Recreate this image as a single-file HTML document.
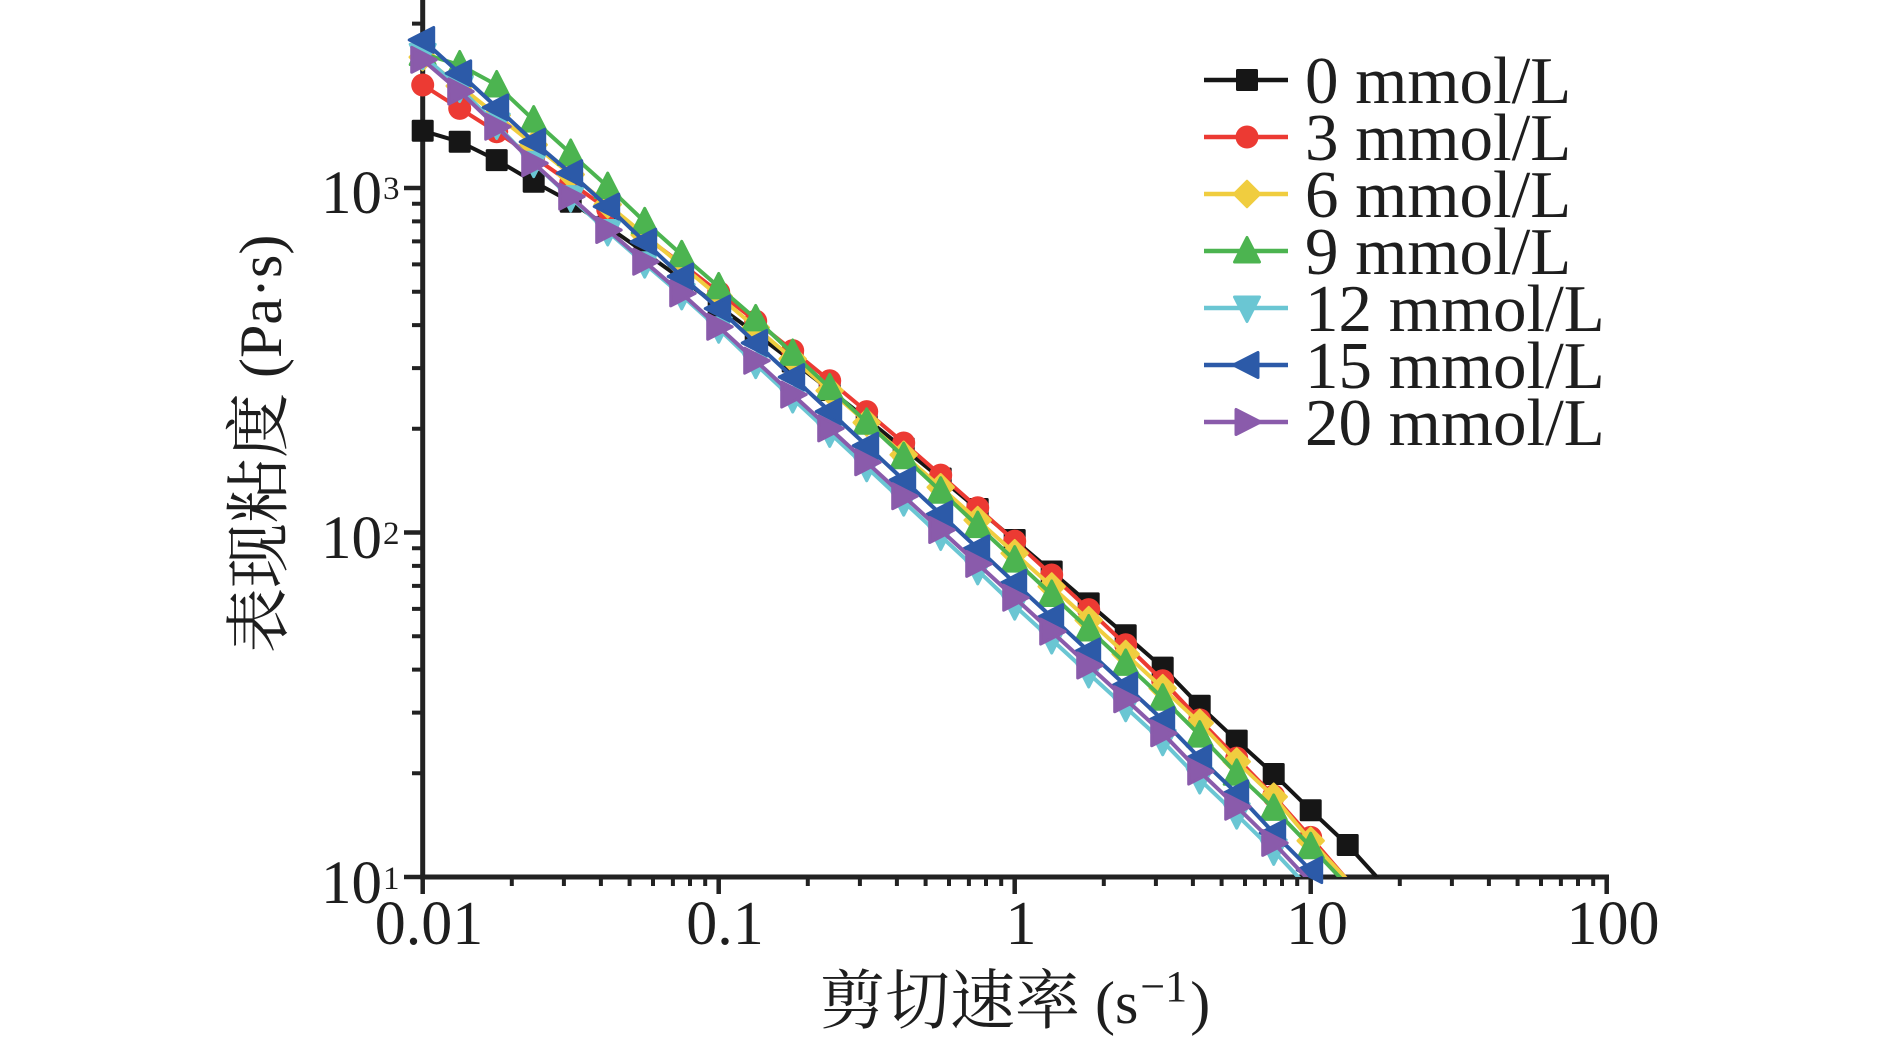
<!DOCTYPE html>
<html>
<head>
<meta charset="utf-8">
<style>
html,body{margin:0;padding:0;background:#fff;}
svg{display:block;}
text{font-family:"Liberation Serif","Noto Serif CJK SC",serif;fill:#1e1e1e;}
</style>
</head>
<body>
<svg width="1890" height="1045" viewBox="0 0 1890 1045" xmlns="http://www.w3.org/2000/svg">
<defs>
<clipPath id="plot"><rect x="422" y="0" width="1200" height="877"/></clipPath>
<marker id="mSq" markerUnits="userSpaceOnUse" markerWidth="40" markerHeight="40" viewBox="-20 -20 40 40" refX="0" refY="0" overflow="visible"><rect x="-11" y="-11" width="22" height="22" rx="1.5" fill="#161616"/></marker>
<marker id="mCi" markerUnits="userSpaceOnUse" markerWidth="40" markerHeight="40" viewBox="-20 -20 40 40" refX="0" refY="0" overflow="visible"><circle r="11.5" fill="#ec3a33"/></marker>
<marker id="mDi" markerUnits="userSpaceOnUse" markerWidth="40" markerHeight="40" viewBox="-20 -20 40 40" refX="0" refY="0" overflow="visible"><polygon points="0,-13 13,0 0,13 -13,0" fill="#f0cd3f" stroke="#f0cd3f" stroke-width="2.5" stroke-linejoin="round"/></marker>
<marker id="mUp" markerUnits="userSpaceOnUse" markerWidth="40" markerHeight="40" viewBox="-20 -20 40 40" refX="0" refY="0" overflow="visible"><polygon points="0,-13.5 12.5,11 -12.5,11" fill="#4cb450" stroke="#4cb450" stroke-width="3" stroke-linejoin="round"/></marker>
<marker id="mDn" markerUnits="userSpaceOnUse" markerWidth="40" markerHeight="40" viewBox="-20 -20 40 40" refX="0" refY="0" overflow="visible"><polygon points="0,13.5 12.5,-11 -12.5,-11" fill="#6ac6d3" stroke="#6ac6d3" stroke-width="3" stroke-linejoin="round"/></marker>
<marker id="mLt" markerUnits="userSpaceOnUse" markerWidth="40" markerHeight="40" viewBox="-20 -20 40 40" refX="0" refY="0" overflow="visible"><polygon points="-13.5,0 11,-12.5 11,12.5" fill="#2c5aa8" stroke="#2c5aa8" stroke-width="3" stroke-linejoin="round"/></marker>
<marker id="mRt" markerUnits="userSpaceOnUse" markerWidth="40" markerHeight="40" viewBox="-20 -20 40 40" refX="0" refY="0" overflow="visible"><polygon points="13.5,0 -11,-12.5 -11,12.5" fill="#8a5bab" stroke="#8a5bab" stroke-width="3" stroke-linejoin="round"/></marker>
</defs>

<!-- Axes -->
<g stroke="#222" fill="none">
  <line x1="422.7" y1="0" x2="422.7" y2="879.5" stroke-width="5"/>
  <line x1="420.2" y1="877" x2="1609" y2="877" stroke-width="5"/>
  <path stroke-width="4.5" d="M422.7 877V894 M718.7 877V894 M1014.7 877V894 M1310.7 877V894 M1606.7 877V894"/>
  <path stroke-width="4" d="M511.8 877V886 M563.9 877V886 M600.9 877V886 M629.6 877V886 M653 877V886 M672.9 877V886 M690 877V886 M705.2 877V886
  M807.8 877V886 M859.9 877V886 M896.9 877V886 M925.6 877V886 M949 877V886 M968.9 877V886 M986 877V886 M1001.2 877V886
  M1103.8 877V886 M1155.9 877V886 M1192.9 877V886 M1221.6 877V886 M1245 877V886 M1264.9 877V886 M1282 877V886 M1297.2 877V886
  M1399.8 877V886 M1451.9 877V886 M1488.9 877V886 M1517.6 877V886 M1541 877V886 M1560.9 877V886 M1578 877V886 M1593.2 877V886"/>
  <path stroke-width="4.5" d="M422.7 877H404 M422.7 532.5H404 M422.7 188H404"/>
  <path stroke-width="4" d="M422.7 773.3H412 M422.7 712.6H412 M422.7 669.6H412 M422.7 636.2H412 M422.7 608.9H412 M422.7 585.9H412 M422.7 565.9H412 M422.7 548.3H412
  M422.7 428.8H412 M422.7 368.1H412 M422.7 325.1H412 M422.7 291.7H412 M422.7 264.4H412 M422.7 241.4H412 M422.7 221.4H412 M422.7 203.8H412
  M422.7 84.3H412 M422.7 23.6H412"/>
</g>

<!-- Tick labels -->
<g font-size="62" text-anchor="middle">
  <text x="429" y="944">0.01</text>
  <text x="725" y="944">0.1</text>
  <text x="1021" y="944">1</text>
  <text x="1317" y="944">10</text>
  <text x="1613" y="944">100</text>
</g>
<g font-size="61" text-anchor="end">
  <text x="382" y="903">10</text>
  <text x="382" y="558">10</text>
  <text x="382" y="213">10</text>
</g>
<g font-size="33">
  <text x="383" y="889">1</text>
  <text x="383" y="544">2</text>
  <text x="383" y="199">3</text>
</g>

<!-- Axis titles -->
<text x="820" y="1023"><tspan font-size="65">剪切速率</tspan><tspan font-size="60"> (s</tspan><tspan font-size="44" dx="2" dy="-22">−1</tspan><tspan font-size="60" dx="3" dy="22">)</tspan></text>
<text transform="translate(281,653) rotate(-90)"><tspan font-size="65">表现粘度</tspan><tspan font-size="60"> (Pa·s)</tspan></text>

<!-- Series -->
<g fill="none" stroke-width="4" stroke-linejoin="round">
<polyline clip-path="url(#plot)" stroke="#161616" points="422.7,130.8 459.7,141.8 496.7,160.1 533.7,181.8 570.7,201.8 607.7,226.6 644.7,252.6 681.7,279.1 718.7,306.1 755.7,333.6 792.7,361.5 829.7,390.0 866.7,419.0 903.7,448.5 940.7,478.5 977.7,509.0 1014.7,540.0 1051.7,571.5 1088.7,603.4 1125.7,635.2 1162.7,667.6 1199.7,705.8 1236.7,740.6 1273.7,774.0 1310.7,810.2 1347.7,845.0 1384.7,885.6"/>
<polyline stroke="none" marker-start="url(#mSq)" marker-mid="url(#mSq)" marker-end="url(#mSq)" points="422.7,130.8 459.7,141.8 496.7,160.1 533.7,181.8 570.7,201.8 607.7,226.6 644.7,252.6 681.7,279.1 718.7,306.1 755.7,333.6 792.7,361.5 829.7,390.0 866.7,419.0 903.7,448.5 940.7,478.5 977.7,509.0 1014.7,540.0 1051.7,571.5 1088.7,603.4 1125.7,635.2 1162.7,667.6 1199.7,705.8 1236.7,740.6 1273.7,774.0 1310.7,810.2 1347.7,845.0"/>
<polyline clip-path="url(#plot)" stroke="#ec3a33" points="422.7,85.0 459.7,108.4 496.7,131.8 533.7,157.0 570.7,182.8 607.7,209.2 644.7,236.2 681.7,263.9 718.7,292.2 755.7,321.1 792.7,350.6 829.7,380.8 866.7,411.6 903.7,443.0 940.7,475.1 977.7,507.8 1014.7,541.1 1051.7,575.0 1088.7,609.6 1125.7,644.8 1162.7,680.7 1199.7,719.9 1236.7,758.1 1273.7,796.0 1310.7,837.4 1347.7,880.4"/>
<polyline stroke="none" marker-start="url(#mCi)" marker-mid="url(#mCi)" marker-end="url(#mCi)" points="422.7,85.0 459.7,108.4 496.7,131.8 533.7,157.0 570.7,182.8 607.7,209.2 644.7,236.2 681.7,263.9 718.7,292.2 755.7,321.1 792.7,350.6 829.7,380.8 866.7,411.6 903.7,443.0 940.7,475.1 977.7,507.8 1014.7,541.1 1051.7,575.0 1088.7,609.6 1125.7,644.8 1162.7,680.7 1199.7,719.9 1236.7,758.1 1273.7,796.0 1310.7,837.4"/>
<polyline clip-path="url(#plot)" stroke="#f0cd3f" points="422.7,57.1 459.7,86.0 496.7,115.2 533.7,144.7 570.7,174.5 607.7,204.5 644.7,234.9 681.7,265.4 718.7,296.3 755.7,327.5 792.7,358.9 829.7,390.6 866.7,422.5 903.7,454.8 940.7,487.3 977.7,520.1 1014.7,553.2 1051.7,586.5 1088.7,620.1 1125.7,654.0 1162.7,688.2 1199.7,723.0 1236.7,761.6 1273.7,796.7 1310.7,840.8 1347.7,880.4"/>
<polyline stroke="none" marker-start="url(#mDi)" marker-mid="url(#mDi)" marker-end="url(#mDi)" points="422.7,57.1 459.7,86.0 496.7,115.2 533.7,144.7 570.7,174.5 607.7,204.5 644.7,234.9 681.7,265.4 718.7,296.3 755.7,327.5 792.7,358.9 829.7,390.6 866.7,422.5 903.7,454.8 940.7,487.3 977.7,520.1 1014.7,553.2 1051.7,586.5 1088.7,620.1 1125.7,654.0 1162.7,688.2 1199.7,723.0 1236.7,761.6 1273.7,796.7 1310.7,840.8"/>
<polyline clip-path="url(#plot)" stroke="#4cb450" points="422.7,53.6 459.7,65.0 496.7,85.0 533.7,120.1 570.7,153.5 607.7,186.6 644.7,221.8 681.7,254.8 718.7,286.9 755.7,318.9 792.7,353.4 829.7,387.8 866.7,422.3 903.7,456.7 940.7,491.2 977.7,525.6 1014.7,560.1 1051.7,594.5 1088.7,629.0 1125.7,663.4 1162.7,698.2 1199.7,735.1 1236.7,773.3 1273.7,808.4 1310.7,846.7 1347.7,885.6"/>
<polyline stroke="none" marker-start="url(#mUp)" marker-mid="url(#mUp)" marker-end="url(#mUp)" points="422.7,53.6 459.7,65.0 496.7,85.0 533.7,120.1 570.7,153.5 607.7,186.6 644.7,221.8 681.7,254.8 718.7,286.9 755.7,318.9 792.7,353.4 829.7,387.8 866.7,422.3 903.7,456.7 940.7,491.2 977.7,525.6 1014.7,560.1 1051.7,594.5 1088.7,629.0 1125.7,663.4 1162.7,698.2 1199.7,735.1 1236.7,773.3 1273.7,808.4 1310.7,846.7"/>
<polyline clip-path="url(#plot)" stroke="#6ac6d3" points="422.7,55.3 459.7,88.1 496.7,125.0 533.7,163.2 570.7,197.6 607.7,231.5 644.7,263.7 681.7,295.4 718.7,328.8 755.7,364.2 792.7,398.6 829.7,432.9 866.7,467.3 903.7,501.7 940.7,536.0 977.7,570.4 1014.7,605.7 1051.7,639.6 1088.7,673.5 1125.7,707.3 1162.7,741.3 1199.7,779.6 1236.7,814.7 1273.7,850.9 1310.7,890.2"/>
<polyline stroke="none" marker-start="url(#mDn)" marker-mid="url(#mDn)" marker-end="url(#mDn)" points="422.7,55.3 459.7,88.1 496.7,125.0 533.7,163.2 570.7,197.6 607.7,231.5 644.7,263.7 681.7,295.4 718.7,328.8 755.7,364.2 792.7,398.6 829.7,432.9 866.7,467.3 903.7,501.7 940.7,536.0 977.7,570.4 1014.7,605.7 1051.7,639.6 1088.7,673.5 1125.7,707.3 1162.7,741.3 1199.7,779.6 1236.7,814.7 1273.7,850.9"/>
<polyline clip-path="url(#plot)" stroke="#2c5aa8" points="422.7,39.9 459.7,73.3 496.7,107.4 533.7,141.8 570.7,173.2 607.7,206.6 644.7,241.7 681.7,276.5 718.7,308.6 755.7,342.9 792.7,377.1 829.7,411.4 866.7,445.7 903.7,480.0 940.7,514.2 977.7,548.5 1014.7,582.8 1051.7,617.1 1088.7,651.4 1125.7,685.6 1162.7,719.9 1199.7,758.1 1236.7,793.3 1273.7,832.9 1310.7,870.1 1347.7,908.0"/>
<polyline stroke="none" marker-start="url(#mLt)" marker-mid="url(#mLt)" marker-end="url(#mLt)" points="422.7,39.9 459.7,73.3 496.7,107.4 533.7,141.8 570.7,173.2 607.7,206.6 644.7,241.7 681.7,276.5 718.7,308.6 755.7,342.9 792.7,377.1 829.7,411.4 866.7,445.7 903.7,480.0 940.7,514.2 977.7,548.5 1014.7,582.8 1051.7,617.1 1088.7,651.4 1125.7,685.6 1162.7,719.9 1199.7,758.1 1236.7,793.3 1273.7,832.9 1310.7,870.1"/>
<polyline clip-path="url(#plot)" stroke="#8a5bab" points="422.7,59.8 459.7,91.5 496.7,126.7 533.7,163.2 570.7,196.6 607.7,230.0 644.7,261.7 681.7,293.4 718.7,326.8 755.7,360.7 792.7,394.6 829.7,428.4 866.7,462.3 903.7,496.2 940.7,530.0 977.7,563.9 1014.7,597.7 1051.7,631.6 1088.7,665.5 1125.7,699.3 1162.7,733.3 1199.7,771.6 1236.7,806.7 1273.7,842.9 1310.7,882.2"/>
<polyline stroke="none" marker-start="url(#mRt)" marker-mid="url(#mRt)" marker-end="url(#mRt)" points="422.7,59.8 459.7,91.5 496.7,126.7 533.7,163.2 570.7,196.6 607.7,230.0 644.7,261.7 681.7,293.4 718.7,326.8 755.7,360.7 792.7,394.6 829.7,428.4 866.7,462.3 903.7,496.2 940.7,530.0 977.7,563.9 1014.7,597.7 1051.7,631.6 1088.7,665.5 1125.7,699.3 1162.7,733.3 1199.7,771.6 1236.7,806.7 1273.7,842.9"/>
</g>

<!-- Legend -->
<g fill="none" stroke-width="4.5">
  <polyline stroke="#161616" points="1204,80 1247,80 1288,80" marker-mid="url(#mSq)"/>
  <polyline stroke="#ec3a33" points="1204,137 1247,137 1288,137" marker-mid="url(#mCi)"/>
  <polyline stroke="#f0cd3f" points="1204,194 1247,194 1288,194" marker-mid="url(#mDi)"/>
  <polyline stroke="#4cb450" points="1204,251 1247,251 1288,251" marker-mid="url(#mUp)"/>
  <polyline stroke="#6ac6d3" points="1204,308 1247,308 1288,308" marker-mid="url(#mDn)"/>
  <polyline stroke="#2c5aa8" points="1204,365 1247,365 1288,365" marker-mid="url(#mLt)"/>
  <polyline stroke="#8a5bab" points="1204,422 1247,422 1288,422" marker-mid="url(#mRt)"/>
</g>
<g font-size="67">
  <text x="1305" y="103">0 mmol/L</text>
  <text x="1305" y="160">3 mmol/L</text>
  <text x="1305" y="217">6 mmol/L</text>
  <text x="1305" y="274">9 mmol/L</text>
  <text x="1305" y="331">12 mmol/L</text>
  <text x="1305" y="388">15 mmol/L</text>
  <text x="1305" y="445">20 mmol/L</text>
</g>
</svg>
</body>
</html>
